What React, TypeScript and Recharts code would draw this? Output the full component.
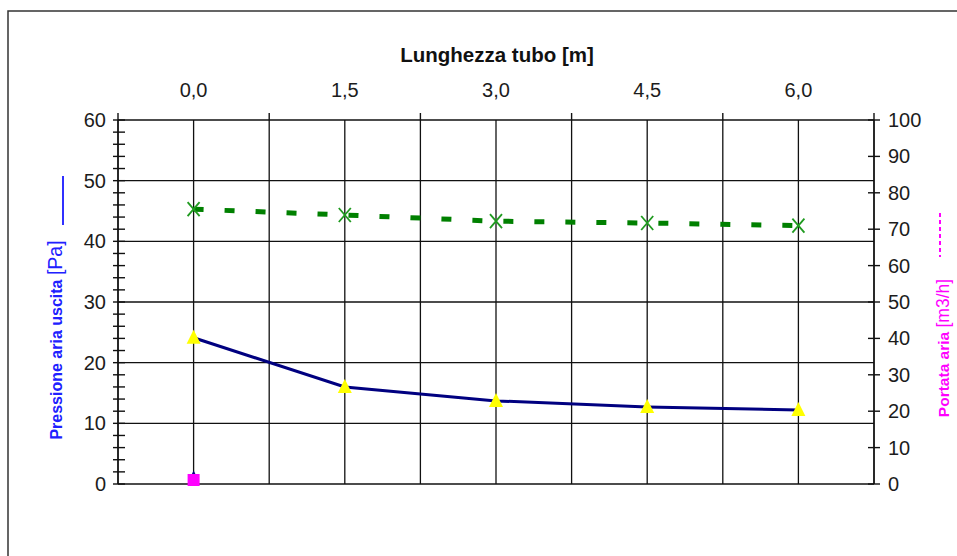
import React from 'react';
import { LineChart, Line, XAxis, YAxis, CartesianGrid } from 'recharts';

const lengths = [0, 1.5, 3, 4.5, 6];
const pressure = [24.1, 16.0, 13.7, 12.7, 12.2];
const flow = [75.5, 73.9, 72.2, 71.7, 71.0];
const pressureOrigin = [0.9, null, null, null, null];
const flowOrigin = [1.1, null, null, null, null];

const xTicks = [-0.75, 0, 0.75, 1.5, 2.25, 3, 3.75, 4.5, 5.25, 6, 6.75];
const leftTicks = [0, 2, 4, 6, 8, 10, 12, 14, 16, 18, 20, 22, 24, 26, 28, 30, 32, 34, 36, 38, 40, 42, 44, 46, 48, 50, 52, 54, 56, 58, 60];
const leftGrid = [0, 10, 20, 30, 40, 50, 60];
const rightTicks = [0, 10, 20, 30, 40, 50, 60, 70, 80, 90, 100];

const data = lengths.map((x, i) => ({
  x,
  pressure: pressure[i],
  flow: flow[i],
  pOrigin: pressureOrigin[i],
  fOrigin: flowOrigin[i],
}));

const FONT = '"Liberation Sans", Arial, sans-serif';
const TXT = '#1c1c1c';

const isMajorX = (v: number) => Math.abs(v / 1.5 - Math.round(v / 1.5)) < 1e-6;

const TopTick = (props: any) => {
  const { x, y, payload } = props;
  const v = payload.value as number;
  if (isMajorX(v)) {
    return (
      <text x={x} y={90} dy="0.35em" textAnchor="middle" fontSize={20} fontFamily={FONT} fill={TXT}>
        {v.toFixed(1).replace('.', ',')}
      </text>
    );
  }
  return <line x1={x} x2={x} y1={y - 7} y2={y} stroke="#111" strokeWidth={1.4} />;
};

const LeftTick = (props: any) => {
  const { x, y, payload } = props;
  const v = payload.value as number;
  return (
    <g>
      <line x1={x - 5} x2={x + 7} y1={y} y2={y} stroke="#111" strokeWidth={1.4} />
      {v % 10 === 0 && (
        <text x={x - 12} y={y} dy="0.35em" textAnchor="end" fontSize={20} fontFamily={FONT} fill={TXT}>
          {v}
        </text>
      )}
    </g>
  );
};

const RightTick = (props: any) => {
  const { x, y, payload } = props;
  return (
    <g>
      <line x1={x - 6} x2={x + 6} y1={y} y2={y} stroke="#111" strokeWidth={1.4} />
      <text x={x + 14} y={y} dy="0.35em" textAnchor="start" fontSize={20} fontFamily={FONT} fill={TXT}>
        {payload.value}
      </text>
    </g>
  );
};

const TriangleDot = (props: any) => {
  const { cx, cy, index } = props;
  if (cx == null || cy == null || isNaN(cy)) return <g key={`t${index}`} />;
  return (
    <polygon
      key={`t${index}`}
      points={`${cx},${cy - 8} ${cx - 7},${cy + 6} ${cx + 7},${cy + 6}`}
      fill="#ffff00"
    />
  );
};

const SmallNavyDot = (props: any) => {
  const { cx, cy, index } = props;
  if (cx == null || cy == null || isNaN(cy)) return <g key={`n${index}`} />;
  return (
    <polygon key={`n${index}`} points={`${cx},${cy - 8} ${cx - 5},${cy + 2} ${cx + 5},${cy + 2}`} fill="#000080" />
  );
};

const SquareDot = (props: any) => {
  const { cx, cy, index } = props;
  if (cx == null || cy == null || isNaN(cy)) return <g key={`s${index}`} />;
  return <rect key={`s${index}`} x={cx - 6} y={cy - 6} width={12} height={12} fill="#ff00ff" />;
};

const XDot = (props: any) => {
  const { cx, cy, index } = props;
  if (cx == null || cy == null || isNaN(cy)) return <g key={`x${index}`} />;
  return (
    <g key={`x${index}`}>
      <line x1={cx - 6} y1={cy - 7} x2={cx + 6} y2={cy + 7} stroke="#1f9a1f" strokeWidth={1.8} />
      <line x1={cx - 6} y1={cy + 7} x2={cx + 6} y2={cy - 7} stroke="#1f9a1f" strokeWidth={1.8} />
    </g>
  );
};

export default function App() {
  return (
    <div style={{ position: 'absolute', left: 0, top: 0, width: 957, height: 556, overflow: 'hidden', background: '#fff' }}>
      <svg width={957} height={556} style={{ position: 'absolute', left: 0, top: 0 }}>
        <rect x={8} y={11} width={1000} height={600} fill="none" stroke="#333" strokeWidth={1.5} />
        <text x={497} y={55} dy="0.35em" textAnchor="middle" fontSize={20.5} fontWeight="bold" fontFamily={FONT} fill="#111">
          Lunghezza tubo [m]
        </text>
        <g transform="translate(62, 340) rotate(-90)">
          <text x={0} y={0} textAnchor="middle" fontFamily={FONT} fill="#2020ff">
            <tspan fontSize={16} fontWeight="bold">Pressione aria uscita </tspan>
            <tspan fontSize={19.5}>[Pa]</tspan>
          </text>
        </g>
        <line x1={63} x2={63} y1={176} y2={225} stroke="#3030ff" strokeWidth={2} />
        <g transform="translate(949, 348) rotate(-90)">
          <text x={0} y={0} textAnchor="middle" fontFamily={FONT} fill="#ff00ff">
            <tspan fontSize={15.5} fontWeight="bold">Portata aria </tspan>
            <tspan fontSize={17.5}>[m3/h]</tspan>
          </text>
        </g>
        <line x1={940} x2={940} y1={213} y2={257} stroke="#ff00ff" strokeWidth={2} strokeDasharray="4 3" />
      </svg>
      <div style={{ position: 'absolute', left: 0, top: 0 }}>
        <LineChart width={957} height={556} data={data} margin={{ top: 80, right: 33, bottom: 72, left: 68 }}>
          <CartesianGrid
            yAxisId="left"
            stroke="#111"
            strokeWidth={1.3}
            horizontalValues={leftGrid}
            verticalValues={xTicks}
          />
          <XAxis
            dataKey="x"
            type="number"
            orientation="top"
            domain={[-0.75, 6.75]}
            ticks={xTicks}
            allowDataOverflow
            height={40}
            tickSize={0}
            tickMargin={0}
            tickLine={false}
            axisLine={false}
            tick={<TopTick />}
            interval={0}
          />
          <YAxis
            yAxisId="left"
            orientation="left"
            domain={[0, 60]}
            ticks={leftTicks}
            width={50}
            tickSize={0}
            tickMargin={0}
            tickLine={false}
            axisLine={{ stroke: '#111', strokeWidth: 1.4 }}
            tick={<LeftTick />}
            interval={0}
          />
          <YAxis
            yAxisId="right"
            orientation="right"
            domain={[0, 100]}
            ticks={rightTicks}
            width={50}
            tickSize={0}
            tickMargin={0}
            tickLine={false}
            axisLine={{ stroke: '#111', strokeWidth: 1.4 }}
            tick={<RightTick />}
            interval={0}
          />
          <Line
            yAxisId="right"
            dataKey="flow"
            stroke="#008000"
            strokeWidth={5}
            strokeDasharray="10 21"
            dot={XDot}
            activeDot={false}
            isAnimationActive={false}
          />
          <Line
            yAxisId="left"
            dataKey="pressure"
            stroke="#000080"
            strokeWidth={3}
            dot={TriangleDot}
            activeDot={false}
            isAnimationActive={false}
          />
          <Line
            yAxisId="left"
            dataKey="pOrigin"
            stroke="none"
            dot={SmallNavyDot}
            activeDot={false}
            isAnimationActive={false}
          />
          <Line
            yAxisId="right"
            dataKey="fOrigin"
            stroke="none"
            dot={SquareDot}
            activeDot={false}
            isAnimationActive={false}
          />
        </LineChart>
      </div>
    </div>
  );
}
